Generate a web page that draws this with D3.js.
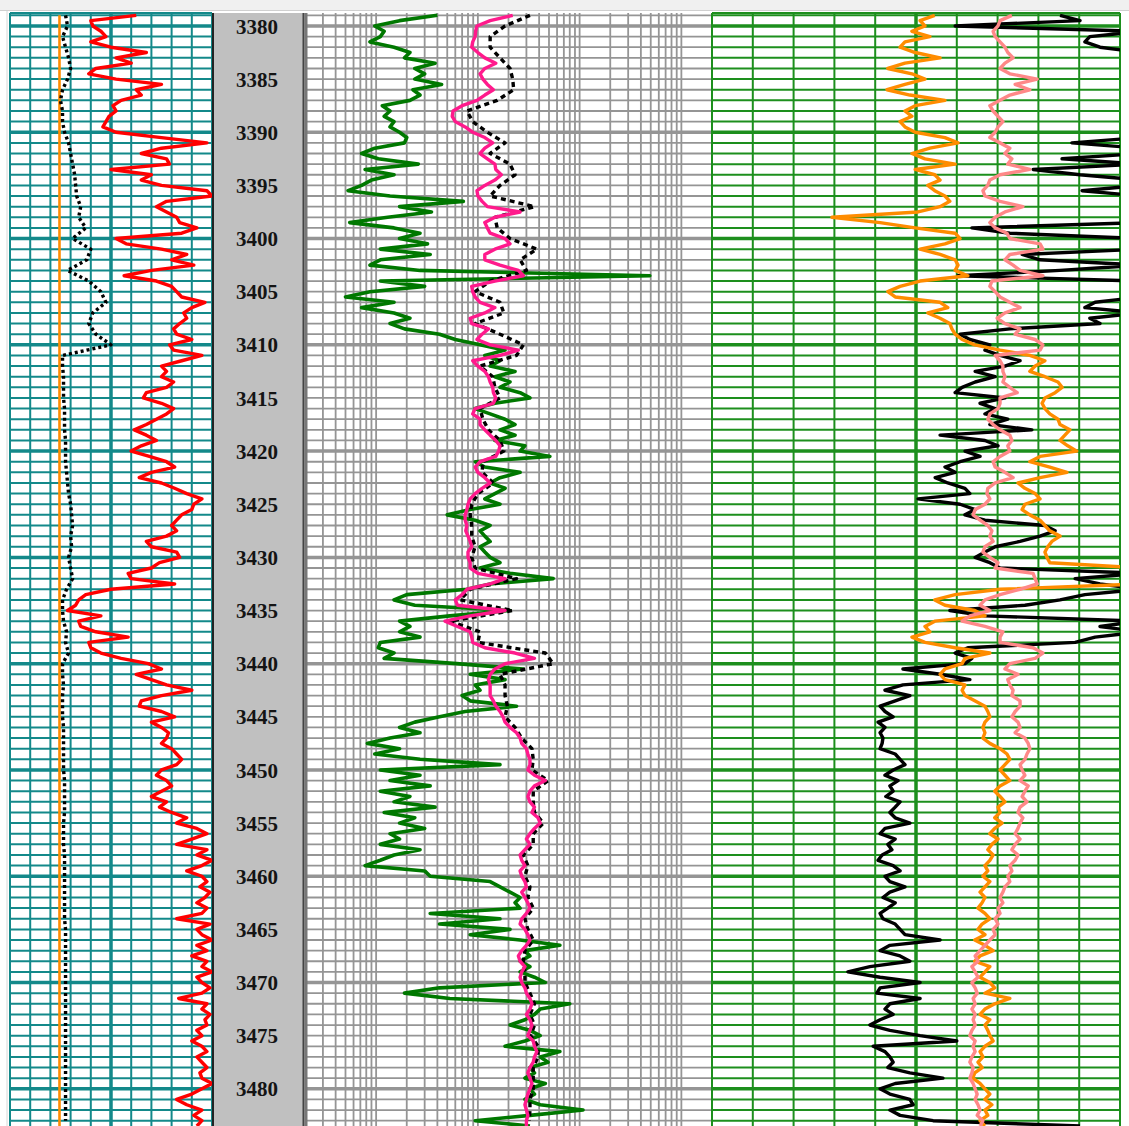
<!DOCTYPE html>
<html>
<head>
<meta charset="utf-8">
<script src="https://cdn.jsdelivr.net/npm/d3@7"></script>
<style>
  html, body { margin: 0; padding: 0; background: #fff; }
  svg { display: block; }
</style>
</head>
<body>
<div id="chart"></div>
<script>
// Well log panel: GR track, depth column, log resistivity track, porosity/sonic track

// ----- Depth sampling -----
const DEPTH_HALF = d3.range(3379, 3483.75, 0.5);   // 0.5 m samples
const DEPTH_1M = d3.range(3379, 3484, 1);          // 1 m samples
const DEPTH_LABELS = d3.range(3380, 3481, 5);

// ----- Track 1 (linear 0-200) -----
const GR = [
  125,80,82,90,95,80,100,135,105,120,85,78,105,150,125,130,110,102,105,98,
  95,92,105,150,195,150,130,155,158,100,140,130,150,195,200,155,145,155,165,168,
  185,170,105,115,150,175,160,182,140,113,145,160,165,170,193,180,172,175,168,162,
  165,180,158,162,190,170,150,155,150,162,155,135,132,150,162,155,145,135,123,135,
  145,130,120,138,155,163,140,128,150,163,175,190,182,180,170,165,160,165,155,135,
  140,165,168,148,140,117,120,163,100,75,68,65,57,90,68,70,85,117,78,80,
  90,110,137,150,125,140,155,180,150,130,128,150,163,140,150,157,155,150,160,165,
  170,165,150,145,155,160,150,140,155,148,160,175,165,185,195,180,165,195,185,200,
  190,175,190,195,188,198,193,185,195,190,165,198,185,190,200,185,195,180,195,190,
  200,185,190,198,190,167,195,190,198,193,195,185,190,180,190,195,185,190,195,188,
  190,200,190,180,165,175,190,182,190,185
];
const CALI = [
  55,57,52,55,58,60,57,52,50,52,
  52,54,58,60,62,64,65,66,70,68,
  75,62,80,76,57,78,90,95,82,78,
  85,100,52,52,53,53,53,54,54,54,
  55,55,55,56,57,58,60,61,62,60,
  61,58,60,62,56,52,52,53,56,55,
  58,52,52,53,52,52,52,53,53,53,
  53,53,54,54,54,54,53,53,53,54,
  54,54,54,54,54,54,55,55,55,55,
  55,55,55,55,55,55,55,55,55,55,
  55,55,55,55,55
];
const BIT_DEPTH = [3379, 3483.5];
const BIT = [49, 49];

// ----- Track 2 (log 0.2-2000) -----
const LLD = [
  4.0,1.7,0.97,1.2,1.1,0.87,1.5,2.15,1.9,3.8,2.4,3.0,2.4,4.4,2.3,2.7,2.15,1.15,1.37,1.2,
  1.5,1.37,1.7,2.0,1.9,0.97,0.72,1.05,2.6,0.78,1.5,0.9,0.72,0.53,1.37,7.2,1.7,3.5,1.3,0.55,
  1.5,2.7,1.7,3.2,1.1,3.4,1.1,0.87,2.7,490,1.1,3.0,0.87,0.5,1.5,0.72,1.5,2.15,1.37,1.9,
  4.2,6.0,10.5,18.5,11.7,16.5,13.2,23.2,14.7,20.7,16.5,26,32.5,14.7,9.4,13.2,18.5,23.2,16.5,23.2,
  14.7,29,26,51,9.4,11.7,26,16.5,13.2,18.5,14.7,11.7,16.5,8.4,5,9.4,13.2,10.5,11.7,13.2,
  10.5,11.7,13.2,16.5,10.5,20.7,55,13.2,7.8,2.0,1.5,2.4,20.7,5.3,1.7,2.15,1.7,2.7,1.1,1.05,
  1.5,1.2,6.2,28,8.4,18.5,9.4,10.5,7,8.4,24,7.5,4.2,2.4,1.7,2.7,1.37,0.82,1.7,0.97,
  2.7,16.5,1.1,2.7,1.37,3.4,1.1,2.15,1.5,3.8,1.2,2.4,1.7,3.0,1.37,1.7,1.1,2.7,1.5,1.1,
  0.78,3.0,3.4,13.2,16.5,20.7,26,23.2,26,3.4,16.5,4.2,20.7,8.4,26,64,29,32.5,26,32.5,
  26,36,46,4.2,1.9,5.3,80,41,36,29,20.7,32.5,41,29,18.5,64,41,49,32.5,36,
  29,46,32.5,36,29,41,108,32.5,9.4,32.5
];
const MSFL = [
  22,13.2,9.8,9.5,9.4,8.9,8.7,10,11.7,15,11.7,10.5,11.2,12.4,14.2,11.7,9.8,7,5.7,5.6,
  6,7.5,8.9,11.7,14,11.7,10.5,12.4,14.7,15,17,14.7,11.7,9.8,10,11,12.4,26,14.7,11.7,
  12.4,13.2,18.5,20.7,14.7,11.7,11.7,16.5,25,28,14.7,8.7,8.9,9.4,10.5,14.7,11.7,8.4,8.7,12.7,
  11,9.8,13.2,25,16.5,8.9,10,11.7,12.7,13.2,14,14.2,15,14.2,9.4,8.9,10.5,10.5,11.7,13.2,
  15,16.5,16,15,10.5,9.4,10,11.7,13.2,11,9.4,8.4,8,7.8,7.5,7.5,7.8,7.6,8,8.4,
  8.7,8,8,8.4,8.4,10,18.5,13.2,7.8,7,6,6.3,18.5,8.4,4.75,6.3,8.4,8.7,8.9,11.7,
  23.2,36,18.5,14.7,13.2,12.7,13.2,13.2,13.2,14.2,15,16.5,17.7,18.5,20.7,24,26,27,30,31,
  32.5,32.5,31,36,46,36,32.5,31,32.5,36,34,39,41,36,32.5,30,32.5,29,26,27,
  29,26,27,29,30,27,29,31,32.5,30,27,26,29,31,32.5,30,27,25,26,29,
  27,26,27,29,30,32.5,34,32.5,30,32.5,34,32.5,31,35,36,38,36,35,32.5,31,
  32.5,34,32.5,31,30,29,30,31,30,30
];
const LLS = [
  32.5,18.5,13.2,13.2,16.5,20.7,22,22.5,15.5,7.8,
  8.9,12.4,18.5,13.2,20.7,23.2,16.5,13.2,36,14.7,
  15.5,20.7,38,26,30,13.2,9.4,16.5,18,9.4,
  16.5,28,24,10.5,14,14.7,16.5,10.5,11.2,12.7,
  16.5,18,11.2,11,14.2,10,8.7,8.4,8.7,8.7,
  9.4,8.7,9.4,24,8.4,6.7,22,5.3,10.5,10,
  46,55,16.5,18.5,18.5,19.5,18.5,23.2,27,34,
  35,34,49,35,35,36,44,35,35,28,
  31,29,32.5,31,35,29,31,35,29,28,
  29,29,32.5,36,32.5,36,33,39,39,35,
  35,35,32.5,32.5,32
];

// ----- Track 3 (linear 0-100) -----
const NPHI = [
  54.6,51.0,52.2,49.0,53.4,47.3,46.1,49.8,55.9,47.3,43.1,49.0,52.2,47.3,42.9,48.5,57.1,49.8,47.3,49.0,
  46.1,47.3,49.8,57.1,60.3,53.4,49.0,52.2,59.6,49.8,54.6,55.9,52.9,54.6,57.1,58.3,55.9,50.5,29.4,41.2,
  49.8,59.6,60.8,57.1,51.0,55.9,59.6,60.3,59.6,62.7,51.0,46.1,43.1,44.9,55.9,57.8,52.9,55.9,58.3,58.8,
  59.6,61.3,64.4,70.6,77.9,81.6,79.2,77.9,81.6,84.8,85.8,84.1,81.6,80.9,81.6,82.8,84.8,85.3,87.7,86.5,
  85.3,87.2,89.4,80.4,77.9,82.8,87.0,80.4,75.0,76.7,79.2,80.4,76.7,76.0,77.9,80.4,81.6,82.8,85.3,83.3,
  82.3,81.6,82.1,82.8,105,105,105,105,70.6,59.6,54.6,57.1,64.4,66.9,54.6,52.2,53.4,49.0,52.2,59.6,
  68.1,62.0,61.3,57.1,55.9,57.1,62.0,61.3,62.0,64.4,66.9,67.6,68.1,66.9,66.4,66.9,66.4,68.1,70.6,72.3,
  73.0,71.8,70.6,71.8,73.0,70.6,69.3,70.6,71.8,70.1,70.6,69.3,71.1,69.3,68.1,70.1,68.6,67.6,68.9,68.1,
  66.9,67.6,66.4,68.1,66.9,65.7,66.9,66.2,65.2,66.9,68.1,66.2,65.2,66.9,64.4,66.9,68.9,65.7,64.4,68.1,
  66.9,65.7,68.1,69.3,66.9,73.0,69.3,66.9,65.7,68.1,66.9,67.6,68.1,68.9,66.9,65.7,66.4,65.2,66.2,64.4,
  63.9,65.7,66.9,68.1,66.9,68.6,66.9,67.6,65.7,66.9
];
const RHOB = [
  73.5,70.6,70.1,68.9,69.4,70.6,71.8,72.5,73.8,71.8,70.6,73.0,79.7,74.3,77.9,73.0,70.6,68.1,68.9,70.1,
  71.3,70.1,69.4,68.1,70.6,73.0,71.8,73.5,72.5,77.9,70.6,68.1,67.6,66.4,66.9,70.6,76.2,71.8,69.4,68.1,
  69.4,72.3,73.0,80.4,81.1,73.0,71.8,73.8,75.5,81.1,68.6,68.1,69.4,70.6,73.0,75.5,71.8,69.9,71.8,75.5,
  74.3,79.2,81.1,80.4,69.4,70.6,71.3,71.3,71.8,71.3,73.0,74.8,70.6,70.6,70.1,68.1,67.6,68.9,70.6,73.0,
  73.5,72.5,73.0,70.6,68.9,69.4,71.8,73.8,69.4,67.6,67.4,68.1,66.9,64.5,64.0,65.7,67.6,68.6,68.1,68.9,
  66.9,66.4,68.1,70.1,69.4,78.7,79.2,79.7,75.5,70.6,66.9,65.7,68.1,63.2,61.3,66.9,71.3,70.6,70.6,78.7,
  81.1,79.2,73.0,71.8,75.0,72.5,73.0,73.8,73.5,75.5,75.5,74.3,73.5,75.0,75.5,74.3,76.7,77.5,77.9,77.2,
  76.7,75.5,76.0,76.7,75.5,77.5,76.7,76.0,77.2,75.5,75.0,76.2,75.5,75.0,74.3,75.5,74.3,73.5,75.0,74.3,
  73.0,73.5,72.5,73.0,71.8,71.3,70.6,71.3,70.1,70.6,69.4,70.1,68.9,69.4,68.1,66.9,65.7,64.5,65.2,63.7,
  64.5,65.2,63.7,64.5,65.0,64.0,64.5,63.7,64.5,64.0,64.5,63.7,63.2,64.5,64.0,64.5,63.7,63.2,64.0,63.7,
  63.2,64.0,64.5,65.0,64.5,65.2,65.7,65.0,66.4,65.7
];
const DT = [
  85.3,90.2,59.6,105,92.6,91.4,95.1,105,105,105,105,105,105,105,105,105,105,105,105,105,
  105,105,105,105,88.2,105,105,85.8,105,78.7,90.2,105,105,90.7,105,105,105,105,105,105,
  63.7,73.0,105,105,105,76.0,80.4,105,85.3,60.3,105,105,105,105,93.9,91.4,105,92.6,95.1,73.0,
  60.8,63.2,68.1,66.9,70.6,75.5,71.8,64.5,69.4,64.5,61.3,59.6,71.8,65.7,69.4,66.9,72.5,68.1,78.4,55.9,
  66.9,70.1,62.0,65.7,60.8,57.1,59.6,54.7,57.8,62.0,63.2,50.5,60.8,64.5,62.0,66.9,81.6,84.1,80.4,75.5,
  69.4,66.9,64.5,68.1,70.6,105,89.0,95.1,105,91.4,85.3,76.7,58.3,66.9,105,95.1,105,93.9,89.0,62.7,
  59.6,63.7,62.0,46.8,55.9,63.2,46.8,42.4,48.5,44.9,41.2,42.4,44.4,40.7,42.4,41.2,41.9,41.7,41.2,44.9,
  46.1,47.3,44.4,42.4,45.6,43.6,44.4,42.6,46.1,44.9,43.6,44.9,48.5,42.4,41.2,44.9,43.1,44.1,41.7,40.7,
  44.4,46.1,42.4,43.6,47.3,43.6,41.9,44.9,43.1,41.2,41.9,44.9,46.1,47.3,55.9,43.6,41.2,46.1,48.5,38.7,
  33.3,41.2,51.0,41.2,40.4,51.0,43.6,42.4,44.4,41.2,38.7,43.6,51.0,60.0,39.5,42.4,43.6,44.4,43.1,48.5,
  56.6,44.9,41.2,43.6,48.5,49.3,43.6,46.1,54.2,90.2
];

// ----- Layout -----
const W = 1129, H = 1126;
const TOP = 13, BOTTOM = 1126;
const T1 = [10, 212], TD = [212, 305], T2 = [305, 712], T3 = [712, 1120];

const svg = d3.select("#chart").append("svg")
  .attr("width", W).attr("height", H);

// window-like top strip
svg.append("rect").attr("x", 0).attr("y", 0).attr("width", W).attr("height", 10).attr("fill", "#f0f0f0");
svg.append("line").attr("x1", 0).attr("x2", W).attr("y1", 10.5).attr("y2", 10.5)
  .attr("stroke", "#d0d0d0").attr("stroke-width", 1);
svg.append("line").attr("x1", 7).attr("x2", 7).attr("y1", 11).attr("y2", H)
  .attr("stroke", "#d8d8d8").attr("stroke-width", 1);

// ----- Scales -----
const y = d3.scaleLinear().domain([3378.78, 3483.5]).range([TOP, BOTTOM]);
const x1 = d3.scaleLinear().domain([0, 200]).range(T1);
const x2 = d3.scaleLog().domain([0.2, 2000]).range(T2);
const x3 = d3.scaleLinear().domain([0, 100]).range(T3);

const GRID_DEPTHS = d3.range(3379, 3484, 1);

function hGrid(g, xr, color, minorW, majorW) {
  g.selectAll("line.h").data(GRID_DEPTHS).join("line")
    .attr("class", "h")
    .attr("x1", xr[0]).attr("x2", xr[1])
    .attr("y1", d => y(d)).attr("y2", d => y(d))
    .attr("stroke", color)
    .attr("stroke-width", d => d % 10 === 0 ? majorW : minorW);
}

function vGrid(g, xs, color, wFn) {
  g.selectAll("line.v").data(xs).join("line")
    .attr("class", "v")
    .attr("x1", d => d.x).attr("x2", d => d.x)
    .attr("y1", TOP).attr("y2", BOTTOM)
    .attr("stroke", color)
    .attr("stroke-width", wFn);
}

// ----- Track 1 grid -----
const TEAL = "#13898a";
const g1 = svg.append("g");
hGrid(g1, T1, TEAL, 2, 3.5);
vGrid(g1, d3.range(0, 201, 20).map(v => ({ v, x: x1(v) })), TEAL,
  d => (d.v === 100 ? 3.5 : 2));
g1.append("line").attr("x1", T1[0]).attr("x2", T1[1]).attr("y1", TOP).attr("y2", TOP)
  .attr("stroke", TEAL).attr("stroke-width", 2);

// ----- Track 2 grid (log) -----
const GRAY = "#959595";
const g2 = svg.append("g");
const logLines = [];
[0.1, 1, 10, 100, 1000].forEach(dec => {
  for (let k = 1; k <= 9; k++) {
    const v = dec * k;
    if (v >= 0.2 && v <= 2000) logLines.push({ v, x: x2(v) });
  }
});
hGrid(g2, T2, GRAY, 1.8, 3.5);
vGrid(g2, logLines, GRAY, 1.8);
g2.append("line").attr("x1", T2[0] + 1).attr("x2", T2[0] + 1).attr("y1", TOP).attr("y2", BOTTOM)
  .attr("stroke", "#777").attr("stroke-width", 3);

// ----- Track 3 grid -----
const GREEN = "#1d8f1d";
const g3 = svg.append("g");
hGrid(g3, T3, GREEN, 2, 3.5);
vGrid(g3, d3.range(0, 101, 10).map(v => ({ v, x: x3(v) })), GREEN,
  d => (d.v === 50 ? 3.5 : 2));
g3.append("line").attr("x1", T3[0]).attr("x2", T3[1]).attr("y1", TOP).attr("y2", TOP)
  .attr("stroke", GREEN).attr("stroke-width", 2);

// ----- Depth column -----
const gd = svg.append("g");
gd.append("rect").attr("x", TD[0]).attr("y", TOP).attr("width", TD[1] - TD[0]).attr("height", BOTTOM - TOP)
  .attr("fill", "#c0c0c0");
gd.append("line").attr("x1", TD[0] + 1).attr("x2", TD[0] + 1).attr("y1", TOP).attr("y2", BOTTOM)
  .attr("stroke", "#222").attr("stroke-width", 2);
gd.append("line").attr("x1", TD[1] - 1.5).attr("x2", TD[1] - 1.5).attr("y1", TOP).attr("y2", BOTTOM)
  .attr("stroke", "#444").attr("stroke-width", 2);
gd.selectAll("text").data(DEPTH_LABELS).join("text")
  .attr("x", 257)
  .attr("y", d => y(d))
  .attr("dy", "0.36em")
  .attr("text-anchor", "middle")
  .attr("font-family", "'Liberation Serif', 'Times New Roman', serif")
  .attr("font-weight", "bold")
  .attr("font-size", 21)
  .attr("fill", "#141414")
  .text(d => d);

// ----- Clip paths -----
const defs = svg.append("defs");
[["c1", T1], ["c2", T2], ["c3", T3]].forEach(([id, r]) => {
  defs.append("clipPath").attr("id", id).append("rect")
    .attr("x", r[0]).attr("y", TOP).attr("width", r[1] - r[0]).attr("height", BOTTOM - TOP);
});

function drawCurve(clip, depths, values, xs, color, width, dash) {
  const pts = values.map((v, i) => ({ d: depths[i], v })).filter(p => p.d !== undefined);
  const line = d3.line().x(p => xs(p.v)).y(p => y(p.d));
  svg.append("path")
    .attr("clip-path", `url(#${clip})`)
    .datum(pts)
    .attr("d", line)
    .attr("fill", "none")
    .attr("stroke", color)
    .attr("stroke-width", width)
    .attr("stroke-linejoin", "round")
    .attr("stroke-dasharray", dash || null);
}

// Track 1 curves
drawCurve("c1", BIT_DEPTH, BIT, x1, "#ff8c00", 2.6);
drawCurve("c1", DEPTH_1M, CALI, x1, "#000", 3.4, "3,3");
drawCurve("c1", DEPTH_HALF, GR, x1, "#ff0000", 3.4);

// Track 2 curves
drawCurve("c2", DEPTH_HALF, LLD, x2, "#007800", 3.6);
drawCurve("c2", DEPTH_1M, LLS, x2, "#000", 3.4, "5,4");
drawCurve("c2", DEPTH_HALF, MSFL, x2, "#ff1a8c", 3.4);

// Track 3 curves
drawCurve("c3", DEPTH_HALF, DT, x3, "#000", 3.4);
drawCurve("c3", DEPTH_HALF, NPHI, x3, "#ff8c00", 3.4);
drawCurve("c3", DEPTH_HALF, RHOB, x3, "#ff8888", 3.4);
</script>
</body>
</html>
